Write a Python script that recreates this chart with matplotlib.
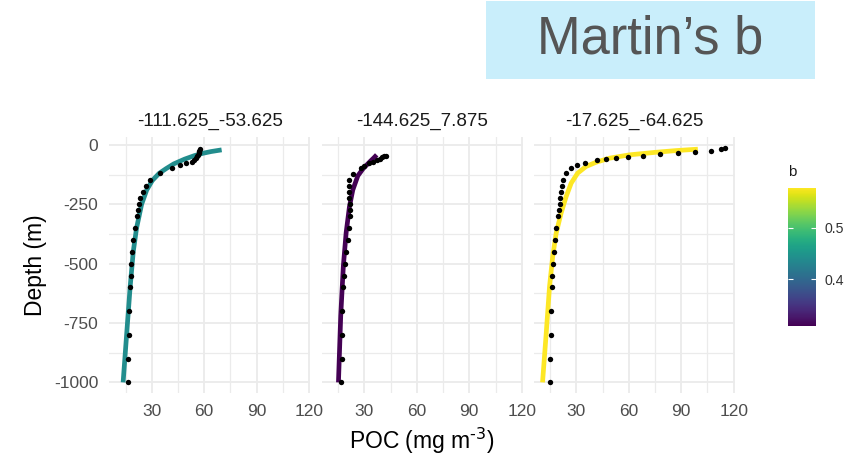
import matplotlib
matplotlib.use("Agg")
import matplotlib.pyplot as plt
from matplotlib.patches import Rectangle
from matplotlib.colors import Normalize
from matplotlib import cm
import numpy as np

plt.rcParams['font.family'] = ['Liberation Sans', 'DejaVu Sans']
plt.rcParams['axes.unicode_minus'] = False

# station labels (lon_lat) and their fitted Martin b
stations = ['-111.625_-53.625', '-144.625_7.875', '-17.625_-64.625']
b_values = [0.44, 0.309, 0.578]

# observed POC profiles
p1_depth = [-1000, -900, -800, -700, -600, -550, -500, -450, -400, -350,
            -300, -275, -250, -225, -200, -175, -147, -120, -97, -86,
            -77, -70, -62, -55, -48, -42, -36, -30, -24, -19]
p1_poc = [16.4, 16.4, 16.8, 17.2, 17.8, 18.0, 18.3, 18.7, 19.3, 20.3,
          21.4, 22.0, 22.7, 23.5, 24.9, 26.9, 29.0, 34.7, 41.6, 46.4,
          49.8, 52.9, 54.4, 55.4, 56.0, 56.5, 56.9, 57.1, 57.3, 57.4]

p2_depth = [-1000, -900, -800, -700, -600, -550, -500, -450, -400, -350,
            -300, -275, -250, -225, -200, -175, -147, -122, -97, -88,
            -78, -70, -64, -58, -52, -48, -45]
p2_poc = [16.6, 17.0, 17.2, 17.4, 17.8, 18.3, 19.1, 19.6, 20.4, 21.4,
          21.9, 21.9, 21.6, 21.4, 21.0, 21.0, 21.4, 23.6, 27.8, 30.0,
          32.6, 34.6, 37.0, 38.6, 40.2, 41.4, 42.4]

p3_depth = [-1000, -900, -800, -700, -600, -550, -500, -450, -400, -350,
            -300, -275, -250, -225, -200, -175, -147, -120, -97, -86,
            -75, -64, -60, -55, -49, -45, -39, -34, -30, -24, -18, -14]
p3_poc = [15.0, 15.0, 15.3, 15.5, 16.1, 16.3, 16.7, 17.0, 17.6, 18.4,
          19.3, 19.9, 20.4, 20.8, 21.4, 22.0, 22.6, 24.1, 27.1, 30.6,
          35.0, 41.8, 47.0, 52.7, 59.7, 67.9, 78.1, 88.2, 98.1, 107.1,
          112.8, 115.2]

# fitted Martin curves
p1_fit_depth = [-1000, -800, -600, -450, -350, -250, -190, -150, -120, -100,
                -80, -60, -45, -35, -28, -21]
p1_fit_poc = [13.6, 15.6, 17.6, 19.4, 21.3, 24.2, 27.1, 30.3, 34.2, 38.2,
              42.6, 48.8, 54.5, 59.5, 64.0, 70.0]

p2_fit_depth = [-1000, -720, -510, -370, -260, -190, -130, -100, -70, -55, -42]
p2_fit_poc = [15.1, 16.4, 17.9, 19.5, 21.4, 23.3, 26.2, 29.2, 33.2, 35.3, 37.0]

p3_fit_depth = [-1000, -794, -597, -471, -372, -288, -218, -161, -119, -91,
                -73, -56, -42, -31, -24, -18]
p3_fit_poc = [10.6, 12.7, 14.6, 16.4, 18.4, 21.2, 24.1, 27.0, 30.7, 35.5,
              41.3, 48.9, 60.3, 75.6, 87.0, 99.5]

profiles = [(p1_poc, p1_depth, p1_fit_poc, p1_fit_depth),
            (p2_poc, p2_depth, p2_fit_poc, p2_fit_depth),
            (p3_poc, p3_depth, p3_fit_poc, p3_fit_depth)]

x_ticks = [30, 60, 90, 120]
y_ticks = [0, -250, -500, -750, -1000]

norm = Normalize(vmin=min(b_values), vmax=max(b_values))
cmap = matplotlib.colormaps['viridis']

fig = plt.figure(figsize=(8.56, 4.59), dpi=100)
fig.patch.set_facecolor('white')

lefts = [0.1277, 0.3762, 0.6238]
width = 0.2345
bottom, height = 0.1431, 0.5578

axes = []
for i, (poc, depth, fpoc, fdepth) in enumerate(profiles):
    ax = fig.add_axes([lefts[i], bottom, width, height])
    axes.append(ax)
    ax.plot(fpoc, fdepth, color=cmap(norm(b_values[i])), lw=3.4,
            solid_capstyle='butt', solid_joinstyle='round', zorder=2)
    ax.scatter(poc, depth, s=15, color='black', zorder=3, linewidths=0)
    ax.set_xlim(5.7, 120.6)
    ax.set_ylim(-1046, 32)
    ax.set_xticks(x_ticks)
    ax.set_xticks([15, 45, 75, 105], minor=True)
    ax.set_yticks(y_ticks)
    ax.set_yticks([-125, -375, -625, -875], minor=True)
    ax.grid(which='major', color='#EBEBEB', lw=1.3, zorder=0)
    ax.grid(which='minor', color='#EBEBEB', lw=0.9, zorder=0)
    ax.set_axisbelow(True)
    for s in ax.spines.values():
        s.set_visible(False)
    ax.tick_params(which='both', length=0, pad=8, labelsize=12.5,
                   labelcolor='#4D4D4D')
    if i > 0:
        ax.set_yticklabels([])
    ax.set_title(stations[i], fontsize=13.5, color='#1A1A1A', pad=8)

fig.text(0.493, 0.04, 'POC (mg m$^{\\text{-3}}$)', ha='center', va='center',
         fontsize=16.5, color='black')
fig.text(0.041, 0.422, 'Depth (m)', ha='center', va='center',
         rotation=90, fontsize=16.5, color='black')

# colour bar for b
cax = fig.add_axes([0.9209, 0.2904, 0.032, 0.3007])
sm = cm.ScalarMappable(norm=norm, cmap=cmap)
cb = fig.colorbar(sm, cax=cax)
cb.outline.set_visible(False)
cb.set_ticks([0.4, 0.5])
cax.tick_params(direction='in', color='white', length=3.5, width=0.8,
                left=True, right=True, labelsize=10.2, labelcolor='#333333',
                pad=6)
fig.text(0.9209, 0.625, 'b', ha='left', va='center', fontsize=10.8,
         color='#1A1A1A')

# title box
fig.patches.append(Rectangle((0.5678, 0.8272), 0.3843, 0.1706,
                             transform=fig.transFigure, facecolor='#C9EEFB',
                             edgecolor='none', zorder=0))
fig.text(0.76, 0.913, 'Martin\u2019s b', ha='center', va='center',
         fontsize=37.8, color='#555555')

fig.savefig('out.png', dpi=100)
